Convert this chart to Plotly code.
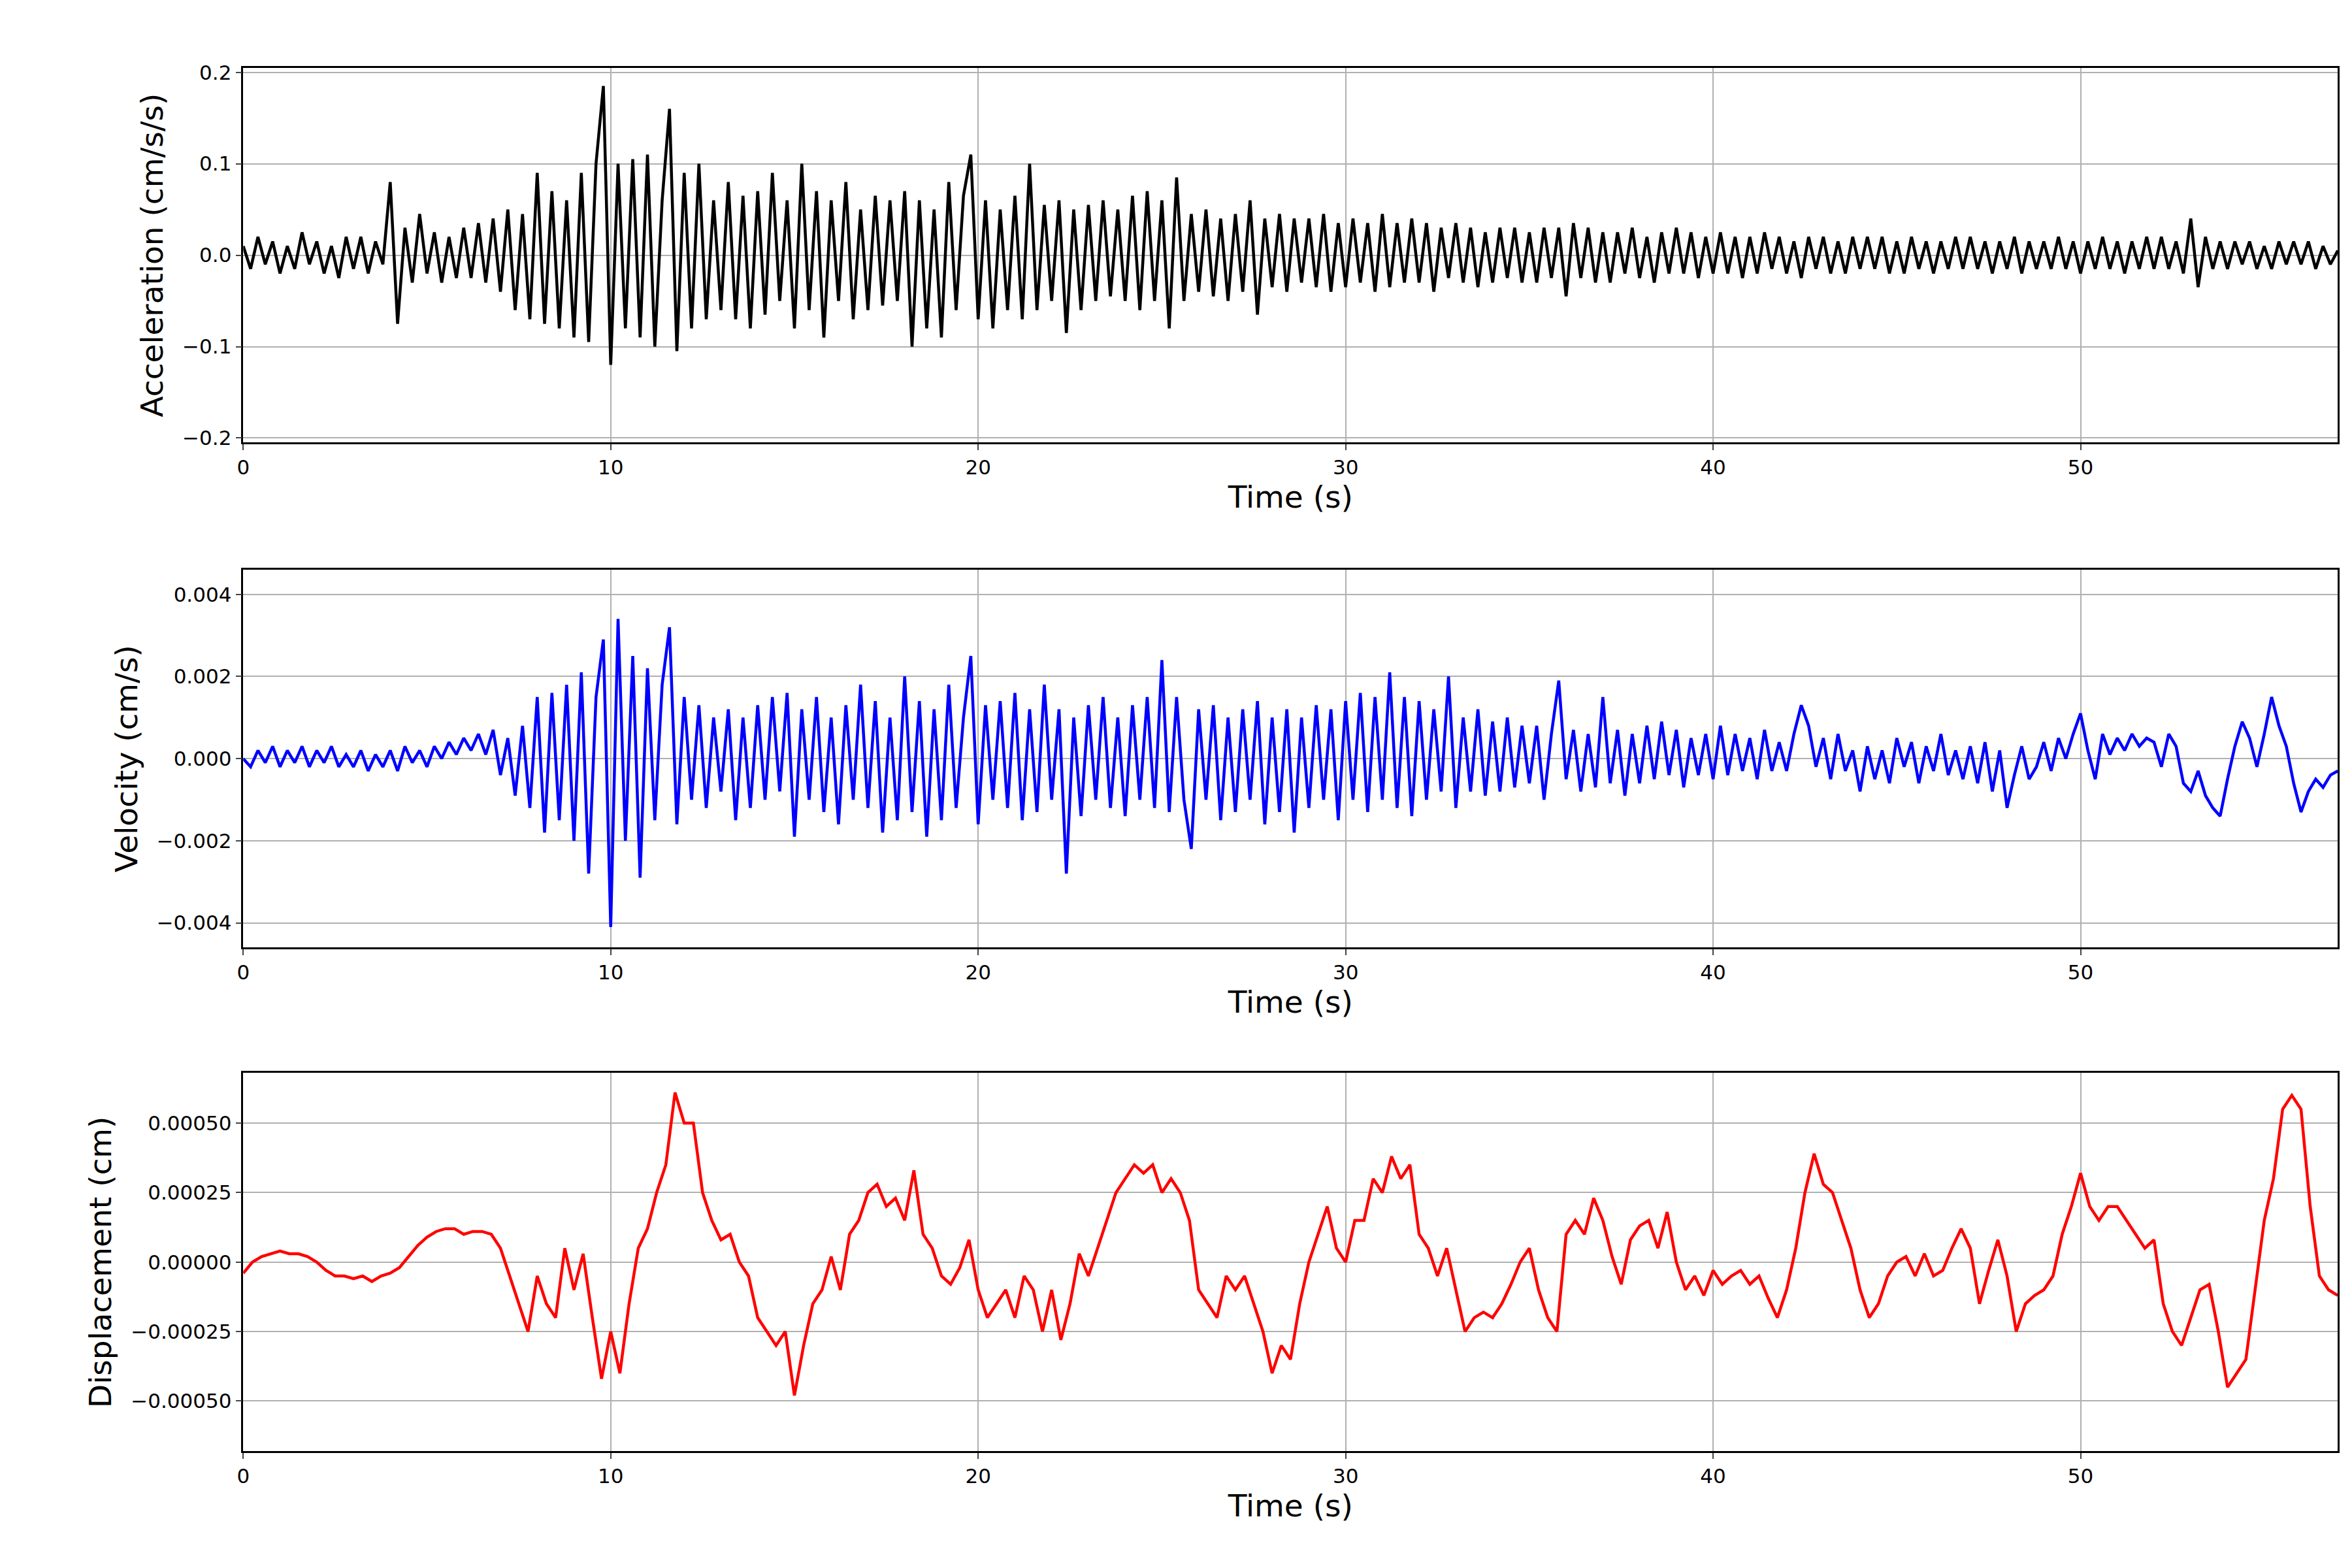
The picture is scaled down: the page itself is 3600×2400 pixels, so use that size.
import numpy as np
import plotly.graph_objs as go

# ground motion records (0.2 s step for acc/vel, 0.25 s for disp)
acc = [0.01,-0.015,0.02,-0.01,0.015, -0.02,0.01,-0.015,0.025,-0.01,
       0.015,-0.02,0.01,-0.025,0.02, -0.015,0.02,-0.02,0.015,-0.01,
       0.08,-0.075,0.03,-0.03,0.045, -0.02,0.025,-0.03,0.02,-0.025,
       0.03,-0.025,0.035,-0.03,0.04, -0.04,0.05,-0.06,0.045,-0.07,
       0.09,-0.075,0.07,-0.08,0.06, -0.09,0.09,-0.095,0.1,0.185,
       -0.12,0.1,-0.08,0.105,-0.09, 0.11,-0.1,0.06,0.16,-0.105,
       0.09,-0.08,0.1,-0.07,0.06, -0.06,0.08,-0.07,0.065,-0.08,
       0.07,-0.065,0.09,-0.05,0.06, -0.08,0.1,-0.06,0.07,-0.09,
       0.06,-0.05,0.08,-0.07,0.05, -0.06,0.065,-0.055,0.06,-0.05,
       0.07,-0.1,0.06,-0.08,0.05, -0.09,0.08,-0.06,0.065,0.11,
       -0.07,0.06,-0.08,0.05,-0.06, 0.065,-0.07,0.1,-0.06,0.055,
       -0.05,0.06,-0.085,0.05,-0.06, 0.055,-0.05,0.06,-0.045,0.05,
       -0.05,0.065,-0.06,0.07,-0.05, 0.06,-0.08,0.085,-0.05,0.045,
       -0.04,0.05,-0.045,0.04,-0.05, 0.045,-0.04,0.06,-0.065,0.04,
       -0.035,0.045,-0.04,0.04,-0.03, 0.04,-0.035,0.045,-0.04,0.035,
       -0.035,0.04,-0.03,0.035,-0.04, 0.045,-0.035,0.035,-0.03,0.04,
       -0.03,0.035,-0.04,0.03,-0.025, 0.035,-0.03,0.03,-0.035,0.025,
       -0.03,0.03,-0.025,0.03,-0.03, 0.025,-0.03,0.03,-0.025,0.03,
       -0.045,0.035,-0.025,0.03,-0.03, 0.025,-0.03,0.025,-0.02,0.03,
       -0.025,0.02,-0.03,0.025,-0.02, 0.03,-0.02,0.025,-0.025,0.02,
       -0.02,0.025,-0.02,0.02,-0.025, 0.02,-0.02,0.025,-0.015,0.02,
       -0.02,0.015,-0.025,0.02,-0.015, 0.02,-0.02,0.015,-0.02,0.02,
       -0.015,0.02,-0.015,0.02,-0.02, 0.015,-0.02,0.02,-0.015,0.015,
       -0.02,0.015,-0.015,0.02,-0.015, 0.02,-0.015,0.015,-0.02,0.015,
       -0.015,0.02,-0.02,0.015,-0.015, 0.015,-0.015,0.02,-0.015,0.015,
       -0.02,0.015,-0.015,0.02,-0.015, 0.015,-0.02,0.015,-0.015,0.02,
       -0.015,0.02,-0.015,0.015,-0.02, 0.04,-0.035,0.02,-0.015,0.015,
       -0.015,0.015,-0.01,0.015,-0.015, 0.01,-0.015,0.015,-0.01,0.015,
       -0.01,0.015,-0.015,0.01,-0.01, 0.005]
vel_e3 = [0,-0.2,0.2,-0.1,0.3, -0.2,0.2,-0.1,0.3,-0.2, 0.2,-0.1,0.3,-0.2,0.1,
          -0.2,0.2,-0.3,0.1,-0.2, 0.2,-0.3,0.3,-0.1,0.2, -0.2,0.3,0,0.4,0.1,
          0.5,0.2,0.6,0.1,0.7, -0.4,0.5,-0.9,0.8,-1.2, 1.5,-1.8,1.6,-1.5,1.8,
          -2.0,2.1,-2.8,1.5,2.9, -4.1,3.4,-2.0,2.5,-2.9, 2.2,-1.5,1.8,3.2,-1.6,
          1.5,-1.0,1.3,-1.2,1.0, -0.8,1.2,-1.5,1.0,-1.2, 1.3,-1.0,1.5,-0.8,1.6,
          -1.9,1.2,-1.0,1.5,-1.3, 1.0,-1.6,1.3,-1.0,1.8, -1.2,1.4,-1.8,1.0,-1.5,
          2.0,-1.3,1.4,-1.9,1.2, -1.5,1.8,-1.2,1.0,2.5, -1.6,1.3,-1.0,1.4,-1.2,
          1.6,-1.5,1.2,-1.3,1.8, -1.0,1.2,-2.8,1.0,-1.4, 1.3,-1.0,1.5,-1.2,1.0,
          -1.4,1.3,-1.0,1.5,-1.2, 2.4,-1.3,1.5,-1.0,-2.2, 1.2,-1.0,1.3,-1.5,1.0,
          -1.3,1.2,-1.0,1.4,-1.6, 1.0,-1.3,1.2,-1.8,1.0, -1.2,1.3,-1.0,1.2,-1.5,
          1.4,-1.0,1.6,-1.3,1.5, -1.0,2.1,-1.2,1.5,-1.4, 1.4,-1.0,1.2,-0.8,2.0,
          -1.2,1.0,-0.8,1.2,-0.9, 0.9,-0.8,1.0,-0.7,0.8, -0.6,0.8,-1.0,0.6,1.9,
          -0.5,0.7,-0.8,0.6,-0.7, 1.5,-0.6,0.7,-0.9,0.6, -0.6,0.8,-0.5,0.9,-0.4,
          0.7,-0.7,0.5,-0.4,0.6, -0.5,0.8,-0.4,0.6,-0.3, 0.5,-0.5,0.7,-0.3,0.4,
          -0.3,0.6,1.3,0.8,-0.2, 0.5,-0.5,0.6,-0.3,0.2, -0.8,0.3,-0.5,0.2,-0.6,
          0.5,-0.2,0.4,-0.6,0.3, -0.3,0.6,-0.4,0.2,-0.5, 0.3,-0.6,0.4,-0.8,0.2,
          -1.2,-0.4,0.3,-0.5,-0.2, 0.4,-0.3,0.5,0,0.6, 1.1,0.2,-0.5,0.6,0.1,
          0.5,0.2,0.6,0.3,0.5, 0.4,-0.2,0.6,0.3,-0.6, -0.8,-0.3,-0.9,-1.2,-1.4,
          -0.5,0.3,0.9,0.5,-0.2, 0.6,1.5,0.8,0.3,-0.6, -1.3,-0.8,-0.5,-0.7,-0.4,
          -0.3]
disp_e4 = [-0.4,0,0.2,0.3, 0.4,0.3,0.3,0.2, 0,-0.3,-0.5,-0.5, -0.6,-0.5,-0.7,-0.5,
           -0.4,-0.2,0.2,0.6, 0.9,1.1,1.2,1.2, 1.0,1.1,1.1,1.0, 0.5,-0.5,-1.5,-2.5,
           -0.5,-1.5,-2.0,0.5, -1.0,0.3,-2.0,-4.2, -2.5,-4.0,-1.5,0.5, 1.2,2.5,3.5,6.1,
           5.0,5.0,2.5,1.5, 0.8,1.0,0,-0.5, -2.0,-2.5,-3.0,-2.5, -4.8,-3.0,-1.5,-1.0,
           0.2,-1.0,1.0,1.5, 2.5,2.8,2.0,2.3, 1.5,3.3,1.0,0.5, -0.5,-0.8,-0.2,0.8,
           -1.0,-2.0,-1.5,-1.0, -2.0,-0.5,-1.0,-2.5, -1.0,-2.8,-1.5,0.3, -0.5,0.5,1.5,2.5,
           3.0,3.5,3.2,3.5, 2.5,3.0,2.5,1.5, -1.0,-1.5,-2.0,-0.5, -1.0,-0.5,-1.5,-2.5,
           -4.0,-3.0,-3.5,-1.5, 0,1.0,2.0,0.5, 0,1.5,1.5,3.0, 2.5,3.8,3.0,3.5,
           1.0,0.5,-0.5,0.5, -1.0,-2.5,-2.0,-1.8, -2.0,-1.5,-0.8,0, 0.5,-1.0,-2.0,-2.5,
           1.0,1.5,1.0,2.3, 1.5,0.2,-0.8,0.8, 1.3,1.5,0.5,1.8, 0,-1.0,-0.5,-1.2,
           -0.3,-0.8,-0.5,-0.3, -0.8,-0.5,-1.3,-2.0, -1.0,0.5,2.5,3.9, 2.8,2.5,1.5,0.5,
           -1.0,-2.0,-1.5,-0.5, 0,0.2,-0.5,0.3, -0.5,-0.3,0.5,1.2, 0.5,-1.5,-0.3,0.8,
           -0.5,-2.5,-1.5,-1.2, -1.0,-0.5,1.0,2.0, 3.2,2.0,1.5,2.0, 2.0,1.5,1.0,0.5,
           0.8,-1.5,-2.5,-3.0, -2.0,-1.0,-0.8,-2.5, -4.5,-4.0,-3.5,-1.0, 1.5,3.0,5.5,6.0,
           5.5,2.0,-0.5,-1.0, -1.2]

vel = np.array(vel_e3) * 1e-3
disp = np.array(disp_e4) * 1e-4
t_acc = np.linspace(0, 57, len(acc))
t_vel = np.linspace(0, 57, len(vel))
t_disp = np.linspace(0, 57, len(disp))

fig = go.Figure()
fig.add_trace(go.Scatter(x=t_acc, y=acc, mode='lines', line=dict(color='black', width=4.5),
                         xaxis='x', yaxis='y'))
fig.add_trace(go.Scatter(x=t_vel, y=vel, mode='lines', line=dict(color='blue', width=4.5),
                         xaxis='x2', yaxis='y2'))
fig.add_trace(go.Scatter(x=t_disp, y=disp, mode='lines', line=dict(color='red', width=4.5),
                         xaxis='x3', yaxis='y3'))

ax = dict(range=[0, 57], dtick=10, showgrid=True, gridcolor='#b0b0b0', gridwidth=2,
          showline=True, linecolor='black', linewidth=2.5, mirror=True,
          ticks='outside', ticklen=9, tickwidth=2, zeroline=False,
          tickfont=dict(size=31), title=dict(text='Time (s)', font=dict(size=47), standoff=12))
ay = dict(showgrid=True, gridcolor='#b0b0b0', gridwidth=2,
          showline=True, linecolor='black', linewidth=2.5, mirror=True,
          ticks='outside', ticklen=9, tickwidth=2, zeroline=False,
          tickfont=dict(size=31))

fig.update_layout(
    width=3600, height=2400, showlegend=False,
    plot_bgcolor='white', paper_bgcolor='white',
    font=dict(family='DejaVu Sans', color='black'),
    margin=dict(l=0, r=0, t=0, b=0),
    xaxis=dict(ax, domain=[0.0987, 0.9917], anchor='y'),
    xaxis2=dict(ax, domain=[0.0987, 0.9917], anchor='y2'),
    xaxis3=dict(ax, domain=[0.0987, 0.9917], anchor='y3'),
    yaxis=dict(ay, domain=[0.7231, 0.9644], anchor='x', range=[-0.205, 0.205], dtick=0.1,
               tickformat='.1f', title=dict(text='Acceleration (cm/s/s)', font=dict(size=47))),
    yaxis2=dict(ay, domain=[0.3981, 0.6413], anchor='x2', range=[-0.0046, 0.0046], dtick=0.002,
                tickformat='.3f', title=dict(text='Velocity (cm/s)', font=dict(size=47))),
    yaxis3=dict(ay, domain=[0.0740, 0.3173], anchor='x3', range=[-0.00068, 0.00068], dtick=0.00025,
                tickformat='.5f', title=dict(text='Displacement (cm)', font=dict(size=47))),
)
print("Graph is ready")
fig.write_html("out.html")
